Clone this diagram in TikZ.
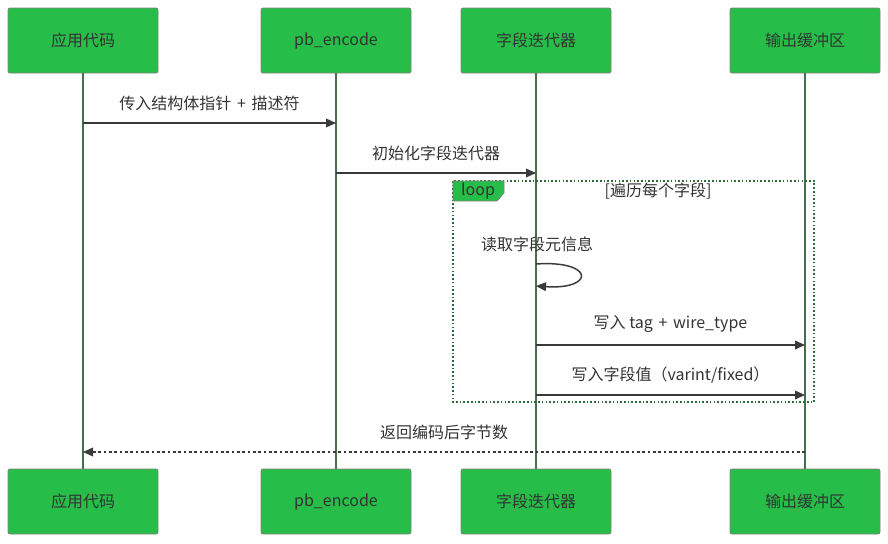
\documentclass[tikz,border=0pt]{standalone}
\usepackage{fontspec}
\setmainfont{Noto Sans CJK SC}
\usetikzlibrary{arrows.meta}
\definecolor{boxfill}{HTML}{26BE48}
\definecolor{boxline}{HTML}{808080}
\definecolor{lifeln}{HTML}{44704C}
\definecolor{txt}{HTML}{333333}
\definecolor{msgln}{HTML}{3A3A3A}
\definecolor{loopln}{HTML}{2E6B3A}
\tikzset{
  actor/.style={draw=boxline, fill=boxfill, rounded corners=1.5pt, line width=0.6pt,
    minimum width=150*0.75pt, minimum height=65*0.75pt, inner sep=0pt,
    text=txt, font=\fontsize{12pt}{14pt}\selectfont},
  life/.style={draw=lifeln, line width=1.1pt},
  msg/.style={draw=msgln, line width=1.1pt, -{Triangle[length=7.5pt,width=6.5pt]}},
  ret/.style={msg, dash pattern=on 2pt off 2pt},
  lbl/.style={text=txt, font=\fontsize{12pt}{14pt}\selectfont, inner sep=0pt},
}
\newcommand{\plussp}{\hspace{0.35em}+\hspace{0.35em}}
\begin{document}
\begin{tikzpicture}[x=0.75pt,y=-0.75pt]
\useasboundingbox (0,0) rectangle (888,543);
% top actors
\node[actor] (a1) at (83,40.5) {应用代码};
\node[actor] (a2) at (336,40.5) {pb\_encode};
\node[actor] (a3) at (536,40.5) {字段迭代器};
\node[actor] (a4) at (805,40.5) {输出缓冲区};
% bottom actors
\node[actor] (b1) at (83,501.5) {应用代码};
\node[actor] (b2) at (336,501.5) {pb\_encode};
\node[actor] (b3) at (536,501.5) {字段迭代器};
\node[actor] (b4) at (805,501.5) {输出缓冲区};
% lifelines
\draw[life] (a1) -- (b1);
\draw[life] (a2) -- (b2);
\draw[life] (a3) -- (b3);
\draw[life] (a4) -- (b4);
% loop frame
\draw[draw=loopln, line width=1.1pt, dash pattern=on 1.2pt off 1.6pt] (453,181) rectangle (814,402);
\path[fill=boxfill, draw=boxline, line width=0.5pt] (453,181) -- (504,181) -- (504,193) -- (497,201) -- (453,201) -- cycle;
\node[lbl] (looplbl) at (478,191) {loop};
\node[lbl] (cond) at (658,191) {[遍历每个字段]};
% messages
\coordinate (m1s) at (83,123); \coordinate (m1e) at (336,123);
\draw[msg] (m1s) -- (m1e) node[lbl, midway, above=8.5pt] (m1l) {传入结构体指针\plussp 描述符};
\coordinate (m2s) at (336,173); \coordinate (m2e) at (536,173);
\draw[msg] (m2s) -- (m2e) node[lbl, midway, above=8.5pt] (m2l) {初始化字段迭代器};
\coordinate (s1) at (536,264); \coordinate (s2) at (536,286);
\draw[msg] (s1) .. controls (595,260) and (595,290) .. (s2);
\node[lbl] (selfl) at (537,244) {读取字段元信息};
\coordinate (m3s) at (536,345); \coordinate (m3e) at (805,345);
\draw[msg] (m3s) -- (m3e) node[lbl, midway, above=8.5pt] (m3l) {写入 tag\plussp wire\_type};
\coordinate (m4s) at (536,395); \coordinate (m4e) at (805,395);
\draw[msg] (m4s) -- (m4e) node[lbl, midway, above=8.5pt] (m4l) {写入字段值（varint/fixed）};
\coordinate (rs) at (805,452); \coordinate (re) at (83,452);
\draw[ret] (rs) -- (re) node[lbl, midway, above=8.5pt] (rl) {返回编码后字节数};
\end{tikzpicture}
\end{document}
